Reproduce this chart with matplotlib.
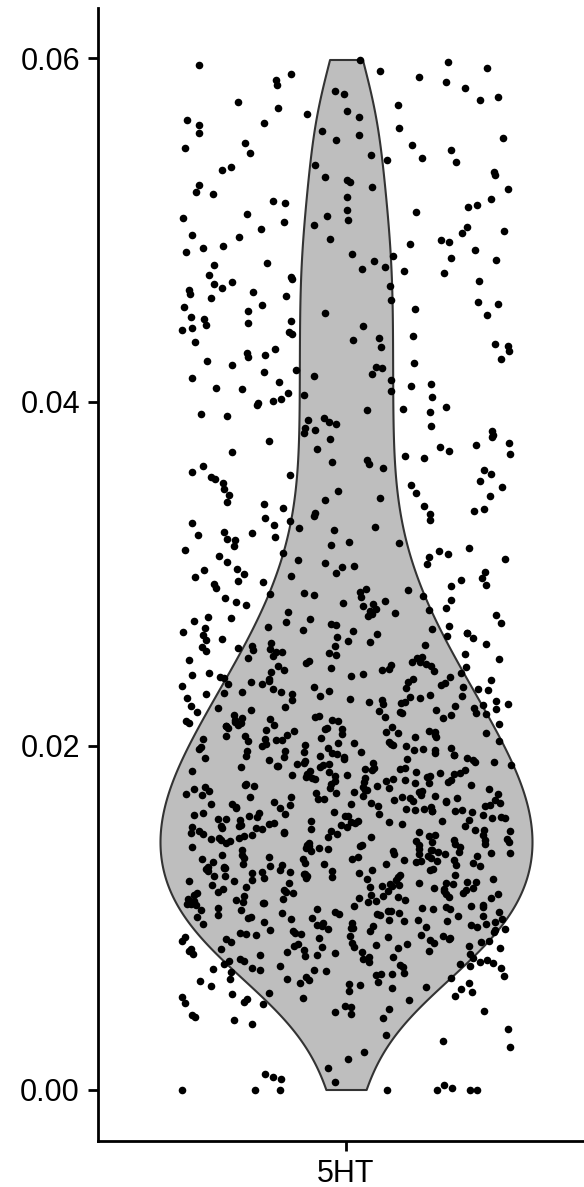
import numpy as np
import matplotlib.pyplot as plt

plt.rcParams["font.family"] = ["Liberation Sans", "DejaVu Sans"]

# Data
feature = "5HT"
n_zero = 7            # cells sitting exactly at 0
bin_width = 0.001     # counts of cells per 0.001-wide bin, from 0.000 up to 0.060
bin_counts = [6, 2, 3, 3, 11, 14, 21, 27, 31, 34,
              35, 36, 37, 38, 38, 38, 37, 35, 34, 32,
              30, 28, 26, 24, 22, 20, 18, 16, 15, 13,
              12, 11, 10, 10, 9, 9, 9, 9, 9, 9,
              9, 9, 9, 9, 9, 9, 9, 9, 9, 9,
              8, 8, 7, 7, 7, 7, 6, 6, 6, 6]
y_ticks = [0.00, 0.02, 0.04, 0.06]
y_tick_labels = ["0.00", "0.02", "0.04", "0.06"]

# spread the cells of each bin evenly inside that bin
values = [0.0] * n_zero
for b, n in enumerate(bin_counts):
    lo = b * bin_width
    values += [lo + (k + 0.5) / n * bin_width for k in range(n)]
values = np.array(values)

# horizontal jitter only (like geom_jitter, width 0.4), values are untouched
jitter = np.random.default_rng(7).uniform(-0.4, 0.4, len(values))
x_jit = 1 + jitter

# bandwidth like R's bw.nrd0
sd = values.std(ddof=1)
iqr = np.subtract(*np.percentile(values, [75, 25]))
bw = 0.9 * min(sd, iqr / 1.34) * len(values) ** -0.2

fig = plt.figure(figsize=(5.84, 11.87), dpi=100)
ax = fig.add_axes([98 / 584, 46 / 1187, 496 / 584, 1133 / 1187])

parts = ax.violinplot([values], positions=[1], widths=0.9, points=512,
                      bw_method=bw / sd, showextrema=False)
for body in parts["bodies"]:
    body.set_facecolor("#bebebe")
    body.set_edgecolor("#333333")
    body.set_linewidth(1.5)
    body.set_alpha(1)

ax.scatter(x_jit, values, s=30, color="black", linewidths=0, zorder=3)

ax.set_xlim(0.4, 1.6)
rng = values.max() - values.min()
ax.set_ylim(values.min() - 0.05 * rng, values.max() + 0.05 * rng)
ax.set_xticks([1])
ax.set_xticklabels([feature])
ax.set_yticks(y_ticks)
ax.set_yticklabels(y_tick_labels)

for side in ["top", "right"]:
    ax.spines[side].set_visible(False)
for side in ["left", "bottom"]:
    ax.spines[side].set_linewidth(2)
    ax.spines[side].set_color("black")
ax.tick_params(axis="both", length=7, width=2, pad=6, labelsize=22, colors="black")

fig.savefig("out.png", dpi=100)
